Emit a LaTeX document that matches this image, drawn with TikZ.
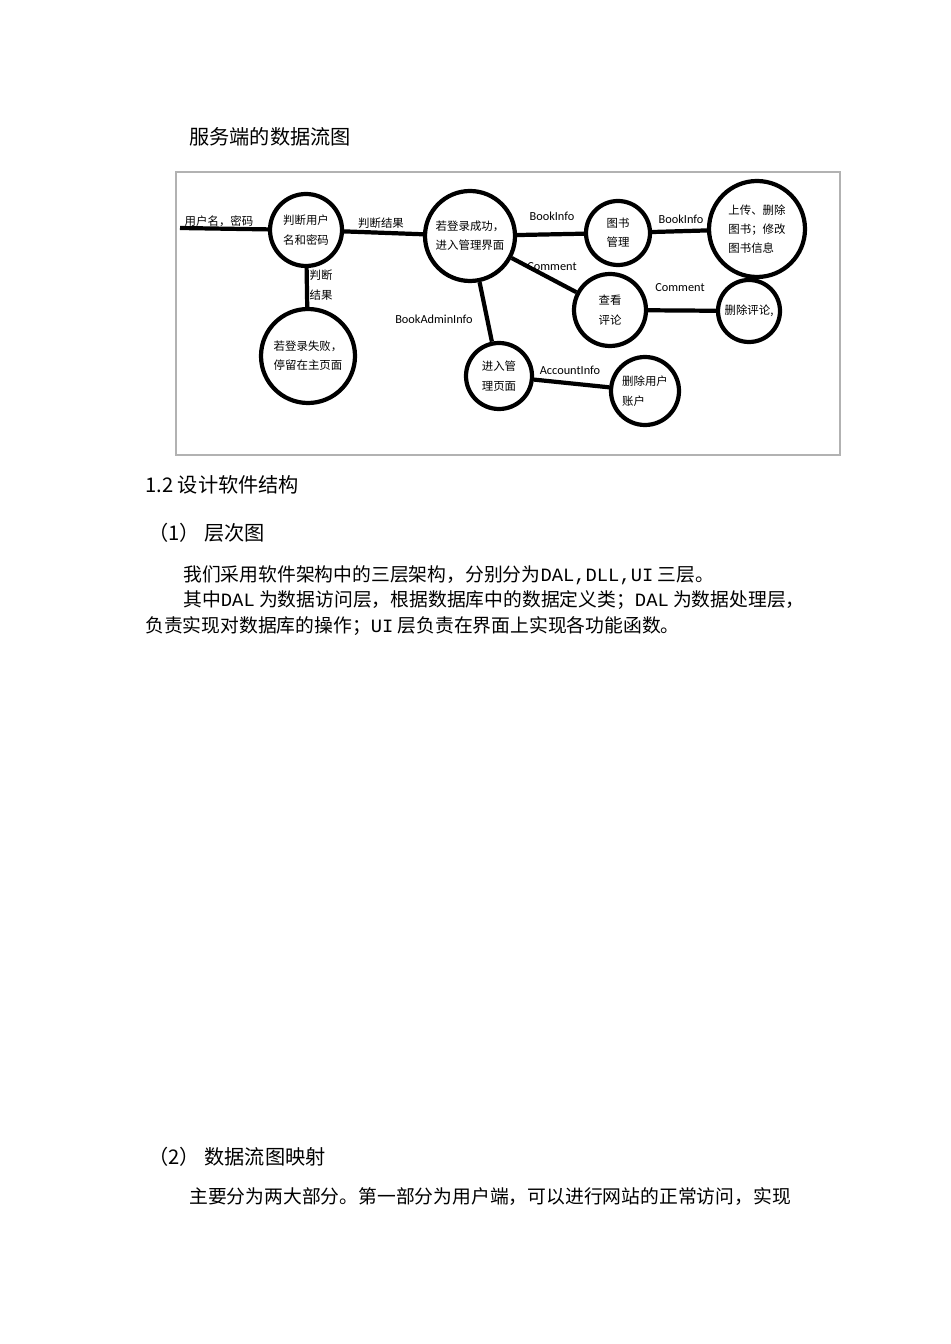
\documentclass[tikz,border=0pt]{standalone}
\usepackage{fontspec}
\newfontfamily\cjk{Noto Sans CJK SC}
\newfontfamily\lat{Carlito}
\newfontfamily\mon{Liberation Mono}
\begin{document}
\begin{tikzpicture}[x=0.02cm,y=-0.02cm,
  bub/.style={draw,circle,line width=2.4pt,inner sep=0pt,align=left,font=\cjk\fontsize{6.5}{11}\selectfont},
  flow/.style={line width=2.4pt},
  lab/.style={font=\lat\fontsize{7}{8}\selectfont,inner sep=0pt},
  clab/.style={font=\cjk\fontsize{6.5}{11}\selectfont,inner sep=0pt,align=left},
  txt/.style={anchor=west,inner sep=0pt,font=\cjk\fontsize{10.7}{12}\selectfont},
  head/.style={anchor=west,inner sep=0pt,font=\cjk\fontsize{11.5}{14}\selectfont}]
\useasboundingbox[fill=white] (0,0) rectangle (950,1344);
\draw[gray!60,line width=0.6pt] (176,172) rectangle (840,455);
\node[head] (t1) at (189,137) {服务端的数据流图};
\node[bub,minimum size=72*0.02cm] (a) at (306,230) {判断用户\\名和密码};
\node[bub,minimum size=90*0.02cm] (b) at (470,236) {若登录成功，\\进入管理界面};
\node[bub,minimum size=94*0.02cm] (c) at (308,356) {若登录失败，\\停留在主页面};
\node[bub,minimum size=64*0.02cm] (d) at (618,233) {图书\\管理};
\node[bub,minimum size=96*0.02cm] (e) at (757,229) {上传、删除\\图书；修改\\图书信息};
\node[bub,minimum size=72*0.02cm] (f) at (610,310) {查看\\评论};
\node[bub,minimum size=62*0.02cm] (g) at (749,311) {删除评论,};
\node[bub,minimum size=66*0.02cm] (h) at (499,376) {进入管\\理页面};
\node[bub,minimum size=68*0.02cm] (i) at (645,391) {删除用户\\账户};
\coordinate (in) at (180,228);
\draw[flow] (in) -- (a);
\draw[flow] (a) -- (b);
\draw[flow] (a) -- (c);
\draw[flow] (b) -- (d);
\draw[flow] (d) -- (e);
\draw[flow] (b) -- (f);
\draw[flow] (f) -- (g);
\draw[flow] (b) -- (h);
\draw[flow] (h) -- (i);
\node[clab] (l1) at (219,221) {用户名，密码};
\node[clab] (l2) at (381,223) {判断结果};
\node[clab] (l3) at (321,285) {判断\\结果};
\node[lab] (l4) at (434,319) {BookAdminInfo};
\node[lab] (l5) at (552,216) {BookInfo};
\node[lab] (l6) at (681,219) {BookInfo};
\node[lab] (l7) at (552,267) {Comment};
\node[lab] (l8) at (680,288) {Comment};
\node[lab] (l9) at (570,370) {AccountInfo};
\node[head] (t2) at (145,485) {1.2 设计软件结构};
\node[head] (t3) at (148,533) {（1） 层次图};
\node[txt] (p1) at (183,575) {我们采用软件架构中的三层架构，分别分为{\mon DAL,DLL,UI} 三层。};
\node[txt] (p2) at (183,600) {其中{\mon DAL} 为数据访问层，根据数据库中的数据定义类；{\mon DAL} 为数据处理层，};
\node[txt] (p3) at (145,626) {负责实现对数据库的操作；{\mon UI} 层负责在界面上实现各功能函数。};
\node[head] (t4) at (148,1157) {（2） 数据流图映射};
\node[txt] (p4) at (189,1197) {主要分为两大部分。第一部分为用户端，可以进行网站的正常访问，实现};
\end{tikzpicture}
\end{document}
